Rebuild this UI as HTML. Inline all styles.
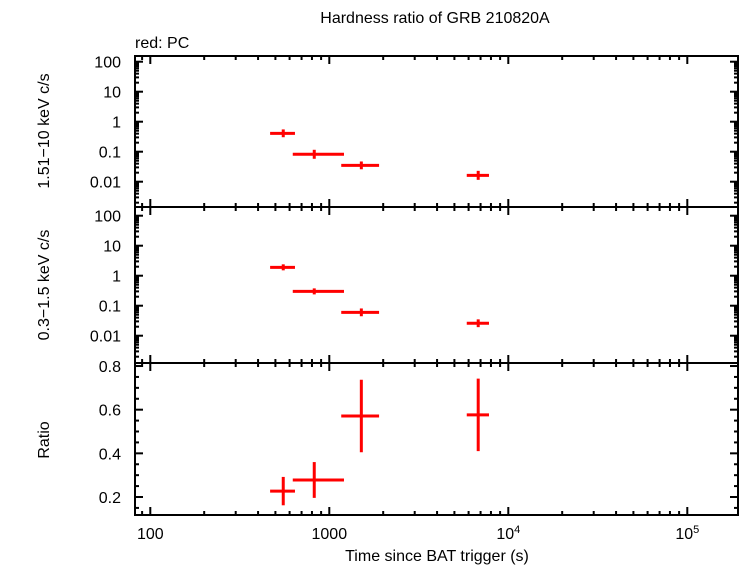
<!DOCTYPE html>
<html><head><meta charset="utf-8"><style>
body{margin:0;background:#fff;}
svg{display:block;font-family:"Liberation Sans",sans-serif;}
</style></head><body>
<svg id="chart" width="742" height="566" xmlns="http://www.w3.org/2000/svg">
<text x="435" y="23" font-size="16" text-anchor="middle">Hardness ratio of GRB 210820A</text>
<text x="135" y="48" font-size="16">red: PC</text>
<text transform="translate(49,131) rotate(-90)" font-size="16" text-anchor="middle">1.51−10 keV c/s</text>
<text transform="translate(49,285) rotate(-90)" font-size="16" text-anchor="middle">0.3−1.5 keV c/s</text>
<text transform="translate(49,440) rotate(-90)" font-size="16" text-anchor="middle">Ratio</text>
<text x="437" y="561" font-size="16" text-anchor="middle">Time since BAT trigger (s)</text>
<g id="g"></g>
</svg>
<script>
const tCenter=[553,824,1510,6790];
const tLow=[467,625,1166,5860];
const tHigh=[643,1208,1897,7800];
const hardRate=[0.41,0.082,0.035,0.0163];
const hardLogErr=[0.13,0.15,0.13,0.15];
const softRate=[1.9,0.30,0.060,0.026];
const softLogErr=[0.1,0.1,0.13,0.13];
const ratio=[0.227,0.278,0.571,0.576];
const ratioErr=[0.065,0.082,0.166,0.166];
const logTicks=[100,10,1,0.1,0.01];
const logTickLabels=["100","10","1","0.1","0.01"];
const ratioTicks=[0.2,0.4,0.6,0.8];
const ratioTickLabels=["0.2","0.4","0.6","0.8"];
const xTicks=[100,1000,10000,100000];

const NS="http://www.w3.org/2000/svg";
const g=document.getElementById('g');
const X0=135,X1=738;
const xs=t=>150.3+(Math.log10(t)-2)*179;
const P1={top:56,bot:207,y:v=>121.7-Math.log10(v)*30};
const P2={top:207,bot:363,y:v=>275.7-Math.log10(v)*30};
const P3={top:363,bot:515,y:v=>497-(v-0.2)*218.3};
function mk(tag,at,parent){const e=document.createElementNS(NS,tag);for(const k in at)e.setAttribute(k,at[k]);(parent||g).appendChild(e);return e;}
function line(x1,y1,x2,y2,c,w){return mk('line',{x1,y1,x2,y2,stroke:c,'stroke-width':w});}

const fr=mk('rect',{x:X0,y:56,width:X1-X0,height:515-56,fill:'none',stroke:'#000','stroke-width':2});


[207,363].forEach(y=>{const l=line(X0,y,X1,y,'#000',2);

});

[P1,P2,P3].forEach(p=>{
 for(let d=1;d<=5;d++){for(let m=1;m<10;m++){const t=m*Math.pow(10,d);const x=xs(t);if(x<X0||x>X1)continue;
  const L=m===1?8:4;
  line(x,p.bot,x,p.bot-L,'#000',2);line(x,p.top,x,p.top+L,'#000',2);}}
});
xTicks.forEach((t,i)=>{
 const tx=mk('text',{x:xs(t),y:539,'font-size':16,'text-anchor':'middle'});
 
 
 if(t<10000)tx.textContent=String(t);
 else{tx.textContent='10';const s=mk('tspan',{dy:-6,'font-size':11},tx);s.textContent=String(Math.log10(t));}
});
[P1,P2].forEach(p=>{
 for(let d=-3;d<=2;d++){for(let m=1;m<10;m++){const v=m*Math.pow(10,d);const y=p.y(v);if(y<p.top||y>p.bot)continue;
  const L=m===1?8:4;line(X0,y,X0+L,y,'#000',2);line(X1,y,X1-L,y,'#000',2);}}
 logTicks.forEach((v,i)=>{const y=Math.max(p.y(v),p.top+5);
  const tx=mk('text',{x:121,y:y+6,'font-size':16,'text-anchor':'end'});
  
  
  tx.textContent=logTickLabels[i];});
});
for(let v=0.15;v<0.81;v+=0.05){const y=P3.y(v);if(y<P3.top||y>P3.bot)continue;
 const maj=Math.abs((v*10)%2)<0.01||Math.abs((v*10)%2-2)<0.01;const L=maj?8:4;
 line(X0,y,X0+L,y,'#000',2);line(X1,y,X1-L,y,'#000',2);}
ratioTicks.forEach((v,i)=>{const tx=mk('text',{x:121,y:Math.max(P3.y(v),P3.top+3)+6,'font-size':16,'text-anchor':'end'});
 
 
 tx.textContent=ratioTickLabels[i];});

function point(p,i,y,yl,yh,name){
 const grp=mk('g',{});
 
 
 mk('line',{x1:xs(tLow[i]),y1:y,x2:xs(tHigh[i]),y2:y,stroke:'#f00','stroke-width':3},grp);
 mk('line',{x1:xs(tCenter[i]),y1:yl,x2:xs(tCenter[i]),y2:yh,stroke:'#f00','stroke-width':3},grp);
}
for(let i=0;i<tCenter.length;i++){
 const lh=Math.log10(hardRate[i]);
 point(P1,i,P1.y(hardRate[i]),P1.y(Math.pow(10,lh-hardLogErr[i])),P1.y(Math.pow(10,lh+hardLogErr[i])),'hard-point');
 const ls=Math.log10(softRate[i]);
 point(P2,i,P2.y(softRate[i]),P2.y(Math.pow(10,ls-softLogErr[i])),P2.y(Math.pow(10,ls+softLogErr[i])),'soft-point');
 point(P3,i,P3.y(ratio[i]),P3.y(ratio[i]-ratioErr[i]),P3.y(ratio[i]+ratioErr[i]),'ratio-point');
}
</script>
</body></html>
